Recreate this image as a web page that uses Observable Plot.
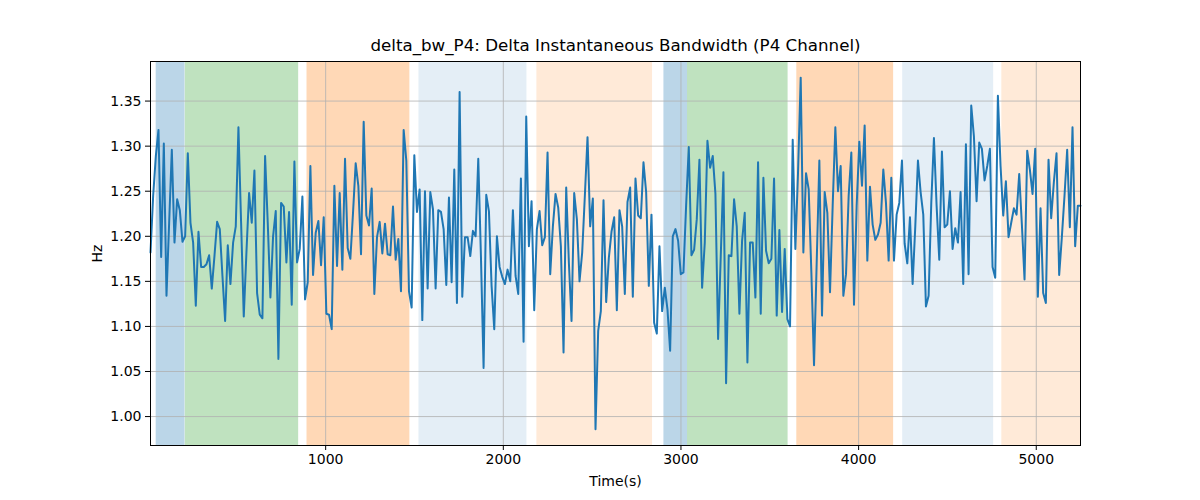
<!DOCTYPE html>
<html>
<head>
<meta charset="utf-8">
<script src="https://cdn.jsdelivr.net/npm/d3@7"></script>
<script src="https://cdn.jsdelivr.net/npm/@observablehq/plot@0.6"></script>
<style>
  html, body { margin: 0; padding: 0; background: #fff; }
  #chart svg { display: block; }
</style>
</head>
<body>
<div id="chart"></div>
<script>
// ---- data ----
const titleText = "delta_bw_P4: Delta Instantaneous Bandwidth (P4 Channel)";
const xLabel = "Time(s)";
const yLabel = "Hz";
const tStart = 14;
const tStep = 15;
const values = [
  1.182,1.245,1.289,1.318,1.177,1.303,1.134,1.215,1.296,1.193,1.241,1.229,1.194,1.200,1.292,1.215,1.193,1.123,1.205,1.166,
  1.166,1.169,1.179,1.142,1.178,1.216,1.208,1.156,1.106,1.190,1.147,1.193,1.211,1.321,1.215,1.111,1.182,1.248,1.215,1.273,
  1.137,1.113,1.109,1.289,1.215,1.132,1.200,1.228,1.064,1.237,1.233,1.171,1.227,1.124,1.283,1.171,1.186,1.244,1.130,1.149,
  1.278,
  1.157,1.204,1.217,1.168,1.221,1.114,1.113,1.097,1.256,1.167,1.248,1.163,1.286,1.187,1.175,1.226,1.281,1.256,1.180,1.327,
  1.223,1.212,1.253,1.136,1.199,1.216,1.181,1.214,1.180,1.179,1.233,1.174,1.197,1.139,1.318,1.284,1.139,1.121,1.290,1.227,
  1.252,1.107,1.250,1.142,1.249,1.230,1.142,1.229,1.227,1.208,1.146,1.243,1.149,1.274,1.126,1.360,1.133,1.199,1.199,1.178,
  1.206,1.200,1.286,1.178,1.054,1.246,1.228,1.145,1.097,1.200,1.166,1.155,1.147,1.163,1.150,1.229,1.156,1.136,1.264,1.083,
  1.333,1.189,1.239,1.118,1.208,1.228,1.190,1.199,1.293,1.158,1.211,1.247,1.232,1.189,1.071,1.254,1.171,1.106,1.248,1.219,
  1.150,1.182,1.245,1.310,1.211,1.242,0.986,1.095,1.117,1.240,1.127,1.176,1.205,1.221,1.118,1.229,1.211,1.136,1.238,1.254,
  1.133,1.264,1.223,1.220,1.282,1.249,1.145,1.224,1.104,1.092,1.189,1.117,1.143,1.119,1.073,1.200,1.208,1.195,1.158,1.160,
  1.234,1.299,1.179,1.185,1.219,1.285,1.143,1.193,1.306,1.276,1.289,1.247,1.086,1.178,1.271,1.037,1.179,1.178,1.241,1.211,
  1.114,1.195,1.226,1.060,1.193,1.193,1.132,1.282,1.114,1.265,1.184,1.170,1.175,1.264,1.112,1.207,1.116,1.186,1.108,1.100,
  1.307,1.186,1.271,1.376,1.182,1.270,1.252,1.160,1.057,1.171,1.284,1.112,1.249,1.226,1.138,1.234,1.321,1.250,1.278,1.134,
  1.158,1.245,1.293,1.124,1.234,1.305,1.256,1.323,1.173,1.255,1.213,1.196,1.202,1.215,1.274,1.237,1.173,1.265,1.173,1.224,
  1.237,1.284,1.192,1.170,1.221,1.147,1.211,1.284,1.249,1.224,1.122,1.134,1.237,1.309,1.234,1.174,1.294,1.210,1.213,1.250,
  1.186,1.209,1.193,1.249,1.147,1.302,1.158,1.345,1.311,1.239,1.304,1.297,1.262,1.278,1.297,1.166,1.154,1.356,1.278,1.223,
  1.261,1.199,1.215,1.231,1.224,1.269,1.213,1.152,1.295,1.274,1.247,1.297,1.133,1.231,1.137,1.126,1.285,1.220,1.260,1.292,
  1.157,1.199,1.245,1.296,1.210,1.321,1.189,1.234,1.234
];
const spanStart = [46, 210, 895, 1525, 2189, 2904, 3037, 3652, 4248, 4806];
const spanEnd   = [208, 848, 1474, 2133, 2840, 3037, 3603, 4197, 4760, 5300];
const spanKind  = ["blue", "green", "orange", "lightblue", "lightorange", "blue", "green", "orange", "lightblue", "lightorange"];
const xTicks = [1000, 2000, 3000, 4000, 5000];
const yTicks = [1.00, 1.05, 1.10, 1.15, 1.20, 1.25, 1.30, 1.35];

// ---- build ----
const series = values.map((v, i) => ({t: tStart + i * tStep, v}));
const tEnd = series[series.length - 1].t;
const spans = spanStart.map((s, i) => ({x1: s, x2: Math.min(spanEnd[i], tEnd), kind: spanKind[i]}));
const kindFill = {blue: "#1f77b4", green: "#2ca02c", orange: "#ff7f0e", lightblue: "#1f77b4", lightorange: "#ff7f0e"};
const kindOpacity = {blue: 0.3, green: 0.3, orange: 0.3, lightblue: 0.12, lightorange: 0.16};

const chart = Plot.plot({
  width: 1200,
  height: 500,
  marginLeft: 150,
  marginRight: 120,
  marginTop: 61,
  marginBottom: 55,
  style: {fontFamily: "DejaVu Sans", fontSize: "14px", color: "#000", background: "#fff"},
  x: {domain: [tStart, tEnd], label: null},
  y: {domain: [0.9679, 1.3939], label: null},
  marks: [
    Plot.rect(spans, {x1: "x1", x2: "x2", fill: d => kindFill[d.kind], fillOpacity: d => kindOpacity[d.kind]}),
    Plot.gridX(xTicks, {stroke: "#b0b0b0", strokeOpacity: 1, strokeWidth: 0.8}),
    Plot.gridY(yTicks, {stroke: "#b0b0b0", strokeOpacity: 1, strokeWidth: 0.8}),
    Plot.line(series, {x: "t", y: "v", stroke: "#1f77b4", strokeWidth: 2}),
    Plot.frame({stroke: "#000", strokeWidth: 1}),
    Plot.axisX({ticks: xTicks, tickFormat: d3.format("d"), tickSize: 5, tickPadding: 4,
                label: xLabel, labelAnchor: "center", labelArrow: "none", labelOffset: 40, fontSize: 14}),
    Plot.axisY({ticks: yTicks, tickFormat: d3.format(".2f"), tickSize: 5, tickPadding: 4,
                label: yLabel, labelAnchor: "center", labelArrow: "none", labelOffset: 58, fontSize: 14}),
    Plot.text([titleText], {frameAnchor: "top", dy: -11, lineAnchor: "bottom", fontSize: 16.7, fill: "#000"})
  ]
});
document.getElementById("chart").appendChild(chart);
</script>
</body>
</html>
